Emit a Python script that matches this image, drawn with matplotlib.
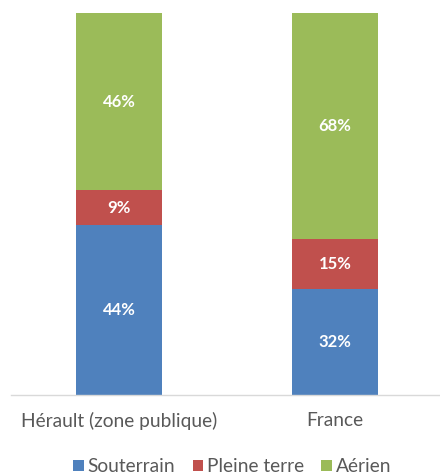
import numpy as np
import matplotlib
matplotlib.use("Agg")
import matplotlib.pyplot as plt

# Répartition des réseaux par mode de pose (%)
zones = ["Hérault (zone publique)", "France"]
series = ["Souterrain", "Pleine terre", "Aérien"]
souterrain = [44, 32]
pleine_terre = [9, 15]
aerien = [46, 68]
colors = ["#4F81BD", "#C0504D", "#9BBB59"]

plt.rcParams["font.family"] = ["Lato", "DejaVu Sans"]

values = np.array([souterrain, pleine_terre, aerien], dtype=float)
# barres empilées à 100 % : chaque colonne est ramenée à son total
shares = values / values.sum(axis=0)

fig = plt.figure(figsize=(4.4, 4.75), dpi=100)
ax = fig.add_axes([11 / 440, 80 / 475, 432 / 440, 382 / 475])

x = np.arange(len(zones))
bottom = np.zeros(len(zones))
handles = []
for name, share, raw, col in zip(series, shares, values, colors):
    bars = ax.bar(x, share, width=0.4, bottom=bottom, color=col, label=name)
    handles.append(bars)
    for xi, b, s, r in zip(x, bottom, share, raw):
        ax.text(xi, b + s / 2, f"{r:.0f}%", ha="center", va="center",
                color="white", fontsize=12, fontweight="bold")
    bottom += share

ax.set_xlim(-0.5, 1.5)
ax.set_ylim(0, 1)
ax.set_yticks([])
ax.set_xticks(x)
ax.set_xticklabels(zones, fontsize=13.8, color="#595959")
ax.tick_params(axis="x", length=0, pad=12)
for side in ["top", "right", "left"]:
    ax.spines[side].set_visible(False)
ax.spines["bottom"].set_color("#D9D9D9")
ax.spines["bottom"].set_linewidth(1)

fig.legend(handles=handles, labels=series, loc="center", bbox_to_anchor=(0.528, 8 / 475),
           ncol=3, frameon=False, fontsize=13.8, handlelength=0.55, handleheight=0.55,
           handletextpad=0.2, columnspacing=0.9, labelcolor="#595959")

fig.savefig("out.png", dpi=100)
